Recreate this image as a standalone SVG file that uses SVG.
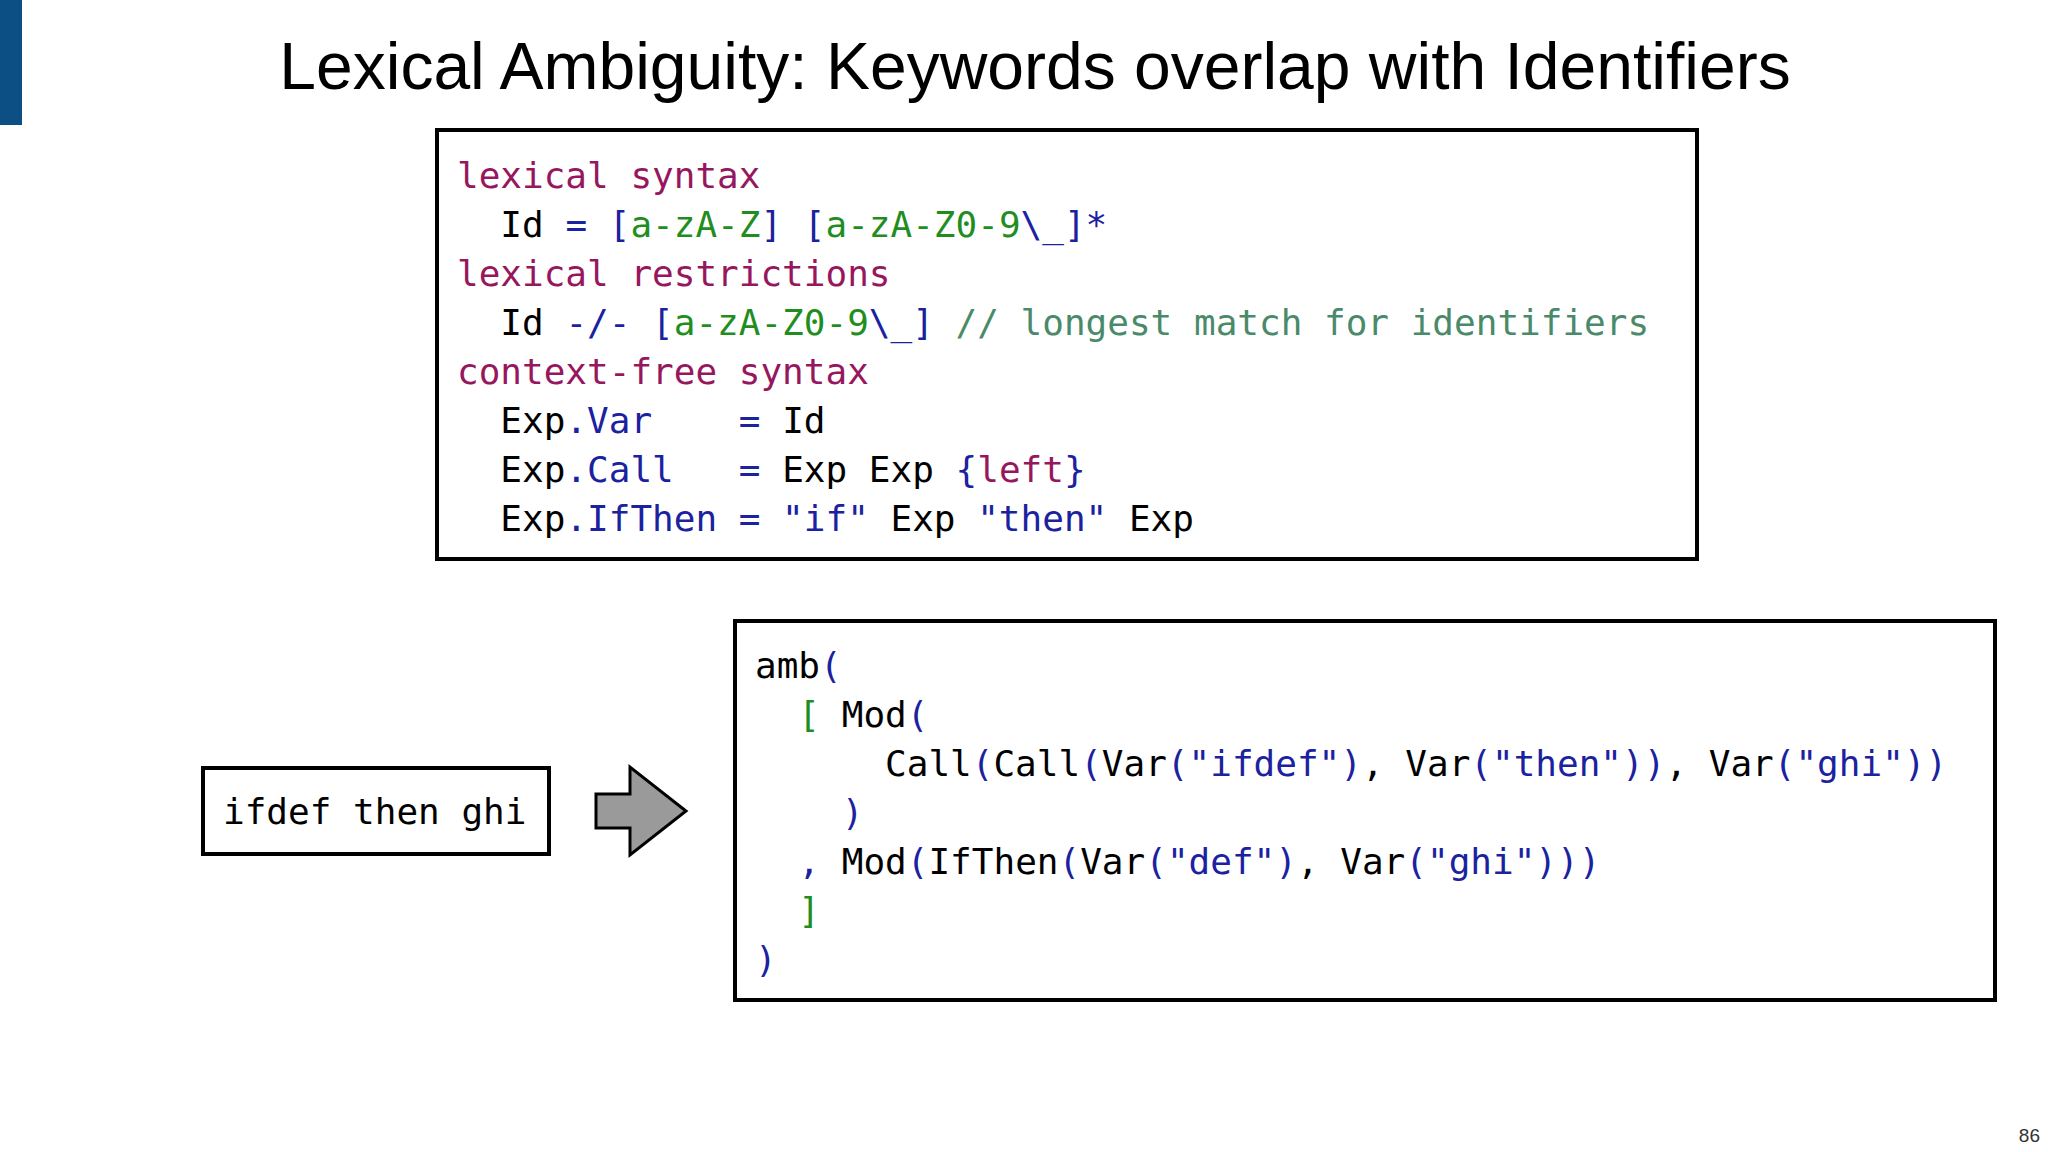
<svg xmlns="http://www.w3.org/2000/svg" width="2048" height="1152" viewBox="0 0 2048 1152">
<style>
.c{font-family:"DejaVu Sans Mono","Liberation Mono",monospace;font-size:36px;fill:#000;white-space:pre}
.p{fill:#97175f}.b{fill:#1b22a0}.g{fill:#1f8e1f}.m{fill:#4a8a6a}
.box{fill:#fff;stroke:#000;stroke-width:4}
</style>
<rect width="2048" height="1152" fill="#fff"/>
<rect x="0" y="0" width="22" height="125" fill="#0b4f84"/>
<text x="1035" y="89" text-anchor="middle" font-family="Liberation Sans,Arial,sans-serif" font-size="66">Lexical Ambiguity: Keywords overlap with Identifiers</text>
<g id="grammar">
<rect class="box" x="437" y="130" width="1260" height="429"/>
<text class="c" xml:space="preserve"><tspan x="457" y="188" class="p">lexical syntax</tspan><tspan x="457" y="237">  Id <tspan class="b">= [</tspan><tspan class="g">a-zA-Z</tspan><tspan class="b">] [</tspan><tspan class="g">a-zA-Z0-9</tspan><tspan class="b">\_]*</tspan></tspan><tspan x="457" y="286" class="p">lexical restrictions</tspan><tspan x="457" y="335">  Id <tspan class="b">-/- [</tspan><tspan class="g">a-zA-Z0-9</tspan><tspan class="b">\_]</tspan> <tspan class="m">// longest match for identifiers</tspan></tspan><tspan x="457" y="384" class="p">context-free syntax</tspan><tspan x="457" y="433">  Exp<tspan class="b">.Var    =</tspan> Id</tspan><tspan x="457" y="482">  Exp<tspan class="b">.Call   =</tspan> Exp Exp <tspan class="b">{</tspan><tspan class="p">left</tspan><tspan class="b">}</tspan></tspan><tspan x="457" y="531">  Exp<tspan class="b">.IfThen = "if"</tspan> Exp <tspan class="b">"then"</tspan> Exp</tspan></text>
</g>
<g id="input">
<rect class="box" x="203" y="768" width="346" height="86"/>
<text class="c" x="223" y="824">ifdef then ghi</text>
</g>
<g id="connectors">
<path d="M596,794 H630 V767 L686,811 L630,855 V828 H596 Z" fill="#9a9a9a" stroke="#000" stroke-width="3" stroke-linejoin="miter"/>
</g>
<g id="result">
<rect class="box" x="735" y="621" width="1260" height="379"/>
<text class="c" xml:space="preserve"><tspan x="755" y="678">amb<tspan class="b">(</tspan></tspan><tspan x="755" y="727">  <tspan class="g">[</tspan> Mod<tspan class="b">(</tspan></tspan><tspan x="755" y="776">      Call<tspan class="b">(</tspan>Call<tspan class="b">(</tspan>Var<tspan class="b">("ifdef")</tspan>, Var<tspan class="b">("then"))</tspan>, Var<tspan class="b">("ghi"))</tspan></tspan><tspan x="755" y="825" class="b">    )</tspan><tspan x="755" y="874">  <tspan class="b">,</tspan> Mod<tspan class="b">(</tspan>IfThen<tspan class="b">(</tspan>Var<tspan class="b">("def")</tspan>, Var<tspan class="b">("ghi")))</tspan></tspan><tspan x="755" y="923" class="g">  ]</tspan><tspan x="755" y="972" class="b">)</tspan></text>
</g>
<text x="2040" y="1142" text-anchor="end" font-family="Liberation Sans,Arial,sans-serif" font-size="19" fill="#333">86</text>
</svg>
